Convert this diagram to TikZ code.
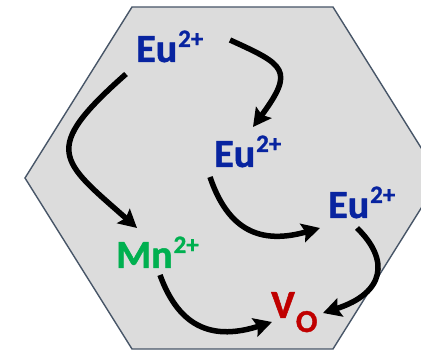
\documentclass[tikz,border=0pt]{standalone}
\usepackage{fontspec}
\setmainfont{Carlito}[BoldFeatures={FakeBold=1.2}]
\usetikzlibrary{arrows.meta}
\definecolor{eublue}{RGB}{8,36,160}
\definecolor{mngreen}{RGB}{0,176,80}
\definecolor{vred}{RGB}{192,0,0}
\definecolor{hexfill}{RGB}{220,220,220}
\definecolor{hexline}{RGB}{72,86,104}
\newcommand{\ionlabel}[2]{{\bfseries\fontsize{40}{40}\selectfont #1\kern1pt\raisebox{15pt}{\fontsize{25}{25}\selectfont #2}}}
\begin{document}
\begin{tikzpicture}[x=1pt,y=-1pt,
  ion/.style={inner sep=0pt,anchor=base west},
  arr/.style={line width=5.5pt,black,-{Stealth[length=18pt,width=19pt,inset=3pt]}}]
\useasboundingbox (0,0) rectangle (421,350);
\clip (0,0) rectangle (421,350);
\draw[fill=hexfill,draw=hexline,line width=1.4pt]
  (132,7) -- (333,7) -- (440,178) -- (333,349) -- (132,349) -- (25,178) -- cycle;
\node[ion,text=eublue] (eu1) at (136,62) {\ionlabel{Eu}{2+}};
\node[ion,text=eublue] (eu2) at (214,167) {\ionlabel{Eu}{2+}};
\node[ion,text=eublue] (eu3) at (328,218) {\ionlabel{Eu}{2+}};
\node[ion,text=mngreen] (mn) at (116,268) {\ionlabel{Mn}{2+}};
\node[ion,text=vred] (vo) at (271,318) {{\bfseries\fontsize{40}{40}\selectfont V\kern1pt\raisebox{-14pt}{\fontsize{32}{32}\selectfont O}}};
\draw[arr] ([shift={(94,-22)}]eu1.base west) .. controls +(55,25) and +(42,-57) .. ([shift={(39,-40)}]eu2.base west);
\draw[arr] ([shift={(-10,12)}]eu1.base west) .. controls +(-86,76) and +(-77,-68) .. ([shift={(21,-40)}]mn.base west);
\draw[arr] ([shift={(-4,10)}]eu2.base west) .. controls +(18,53) and +(-60,17) .. ([shift={(-8,10)}]eu3.base west);
\draw[arr] ([shift={(29,10)}]eu3.base west) .. controls +(33,32) and +(62,-20) .. ([shift={(52,-5)}]vo.base west);
\draw[arr] ([shift={(44,7)}]mn.base west) .. controls +(20,55) and +(-57,18) .. ([shift={(1,4)}]vo.base west);
\end{tikzpicture}
\end{document}
